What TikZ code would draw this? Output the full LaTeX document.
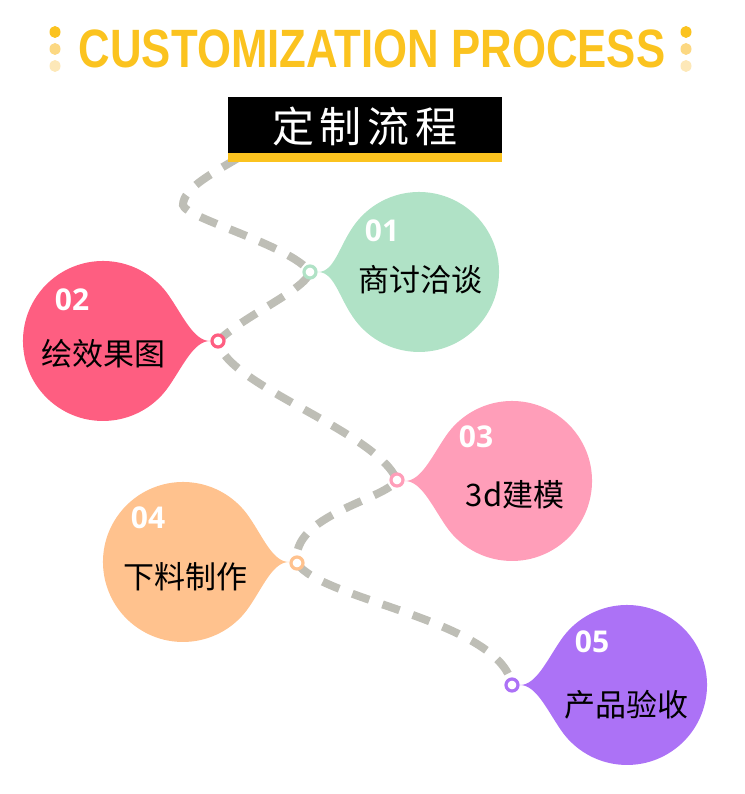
\documentclass[tikz,border=0pt]{standalone}
\usepackage{fontspec}
\setmainfont{Liberation Sans}
\newfontfamily\cjkfont{Noto Sans CJK SC}
\newfontfamily\numfont{Open Sans}
\usepackage{tikz}

\definecolor{procyellow}{RGB}{251,195,31}
\definecolor{dotmid}{RGB}{252,216,130}
\definecolor{dotlight}{RGB}{253,232,184}
\definecolor{trailgray}{RGB}{190,190,182}
\definecolor{stepgreen}{RGB}{176,226,198}
\definecolor{stepred}{RGB}{254,94,129}
\definecolor{steppink}{RGB}{255,158,185}
\definecolor{steppeach}{RGB}{255,194,142}
\definecolor{steppurple}{RGB}{172,114,246}

\pgfdeclarelayer{bg}
\pgfsetlayers{bg,main}

\tikzset{
  ring/.style={circle,draw=#1,fill=white,line width=3.2pt,minimum size=12pt,inner sep=0pt},
  trail/.style={draw=trailgray,line width=8pt,dash pattern=on 18pt off 14pt},
  stepnum/.style={text=white,font=\numfont\bfseries\fontsize{30}{30}\selectfont},
  steplabel/.style={text=black,font=\cjkfont\fontsize{31}{31}\selectfont},
}

% #1 colour, #2 centre, #3 side of the tail (1 right, -1 left), #4 tip
\newcommand{\stepbubble}[4]{%
  \begin{scope}[shift={#2},xscale=#3]
    \fill[#1] (#4,0) .. controls (#4-16,0) and (80.3,24.3) .. (66.3,44.7)
      arc[start angle=34,end angle=326,radius=80]
      .. controls (80.3,-24.3) and (#4-16,0) .. cycle;
  \end{scope}}

\begin{document}
\begin{tikzpicture}[x=1pt,y=-1pt]
\useasboundingbox (0,0) rectangle (744,794);

\fill[procyellow] (55,32) ellipse[x radius=5.5,y radius=6];
\fill[dotmid] (55,49) ellipse[x radius=5.5,y radius=6];
\fill[dotlight] (55,66) ellipse[x radius=5.5,y radius=6];
\fill[procyellow] (686,32) ellipse[x radius=5.5,y radius=6];
\fill[dotmid] (686,49) ellipse[x radius=5.5,y radius=6];
\fill[dotlight] (686,66) ellipse[x radius=5.5,y radius=6];
\node[text=procyellow,font=\bfseries\fontsize{54}{54}\selectfont,xscale=0.81] (title) at (372,49) {CUSTOMIZATION PROCESS};

\node[fill=black,minimum width=274pt,minimum height=56pt,inner sep=0pt] (banner) at (365,125) {};
\node[text=white,font=\cjkfont\fontsize{42}{42}\selectfont] (bannertext) at (365,126) {定\hspace{6pt}制\hspace{6pt}流\hspace{6pt}程};
\fill[procyellow] (banner.south west) rectangle ([yshift=-9pt]banner.south east);

\node[ring=stepgreen] (r1) at (310,272) {};
\node[ring=stepred] (r2) at (218,341) {};
\node[ring=steppink] (r3) at (397,480) {};
\node[ring=steppeach] (r4) at (297,563) {};
\node[ring=steppurple] (r5) at (512,685) {};

\begin{pgfonlayer}{bg}
\stepbubble{stepgreen}{(419,272)}{-1}{101}
\stepbubble{stepred}{(103,341)}{1}{107}
\stepbubble{steppink}{(512,481)}{-1}{107}
\stepbubble{steppeach}{(183,562)}{1}{106}
\stepbubble{steppurple}{(627,685)}{-1}{107}

\coordinate (start) at (238,158);
\coordinate (bend) at (183,205);
\draw[trail] (start) .. controls (215,172) and (183,188) .. (bend)
  .. controls (185,218) and (290,245) .. (r1.center)
  .. controls (305,290) and (245,315) .. (r2.center)
  .. controls (225,385) and (375,430) .. (r3.center)
  .. controls (385,500) and (290,515) .. (r4.center)
  .. controls (320,600) and (500,620) .. (r5.center);
\end{pgfonlayer}

\node[stepnum] (n1) at (382,231) {01};
\node[steplabel] (l1) at (420,280) {商讨洽谈};
\node[stepnum] (n2) at (72,300) {02};
\node[steplabel] (l2) at (103,354) {绘效果图};
\node[stepnum] (n3) at (476,437) {03};
\node[steplabel] (l3) at (515,495) {3d建模};
\node[stepnum] (n4) at (148,518) {04};
\node[steplabel] (l4) at (185,577) {下料制作};
\node[stepnum] (n5) at (592,642) {05};
\node[steplabel] (l5) at (626,705) {产品验收};

\end{tikzpicture}
\end{document}
